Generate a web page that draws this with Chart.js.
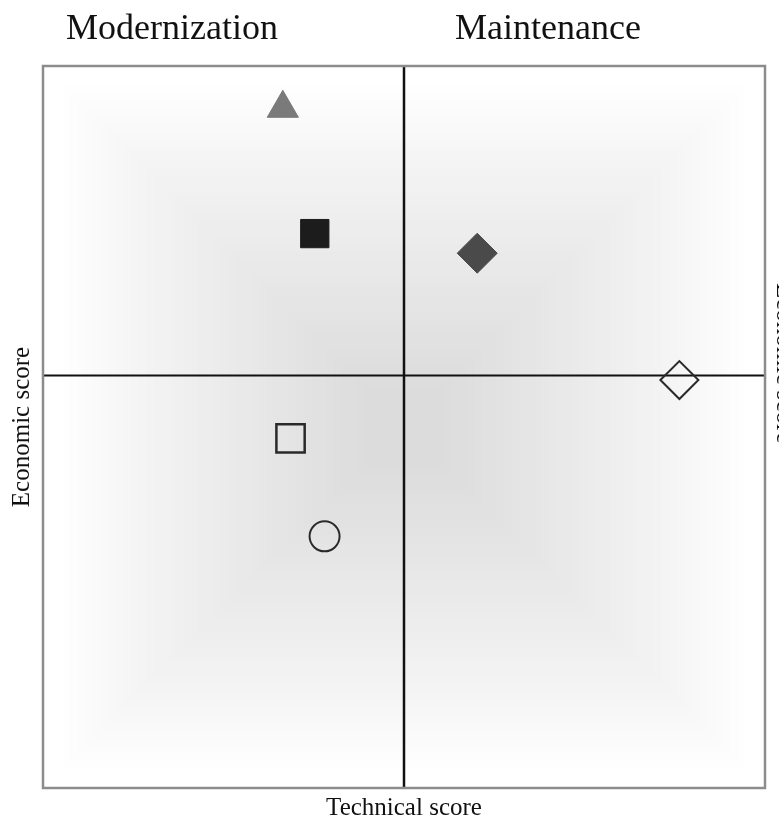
<!DOCTYPE html>
<html>
<head>
<meta charset="utf-8">
<script src="https://cdn.jsdelivr.net/npm/chart.js@4.4.1/dist/chart.umd.min.js"></script>
<style>
  html, body { margin: 0; padding: 0; background: #fff; overflow: hidden; }
  canvas { display: block; }
</style>
</head>
<body>
<canvas id="matrix" width="779" height="822"></canvas>
<script>
// Portfolio points (technical score, economic score)
const names = ["A", "B", "C", "D", "E", "F"];
const technical = [-2.35, -1.73, 1.42, 5.34, -2.20, -1.54];
const economic = [5.18, 2.75, 2.37, -0.09, -1.22, -3.12];
const quadrantTitles = ["Modernization", "Maintenance"];
const xTitle = "Technical score";
const yTitle = "Economic score";

// marker look per point
const markers = [
  { style: "triangle", r: 18, fill: "#7a7a7a", stroke: "#7a7a7a", w: 1 },
  { style: "rect", r: 20, fill: "#1c1c1c", stroke: "#1c1c1c", w: 1 },
  { style: "rectRot", r: 20, fill: "#4a4a4a", stroke: "#4a4a4a", w: 1 },
  { style: "rectRot", r: 19, fill: "rgba(0,0,0,0)", stroke: "#2a2a2a", w: 2 },
  { style: "rect", r: 20, fill: "rgba(0,0,0,0)", stroke: "#2a2a2a", w: 2.5 },
  { style: "circle", r: 15, fill: "rgba(0,0,0,0)", stroke: "#2a2a2a", w: 2 }
];

const datasets = names.map((n, i) => ({
  label: n,
  data: [{ x: technical[i], y: economic[i] }],
  pointStyle: markers[i].style,
  pointRadius: markers[i].r,
  pointBackgroundColor: markers[i].fill,
  pointBorderColor: markers[i].stroke,
  pointBorderWidth: markers[i].w,
  showLine: false
}));

function label(ctx, text, x, y, size, angle, align, base) {
  ctx.save();
  ctx.translate(x, y);
  ctx.rotate(angle);
  ctx.font = size + 'px "Liberation Serif", "DejaVu Serif", serif';
  ctx.fillStyle = "#111";
  ctx.textAlign = align;
  ctx.textBaseline = base;
  ctx.fillText(text, 0, 0);
  ctx.restore();
}

const decor = {
  id: "decor",
  beforeDatasetsDraw(chart) {
    const ctx = chart.ctx;
    const a = chart.chartArea;
    const xs = chart.scales.x, ys = chart.scales.y;
    ctx.save();
    ctx.fillStyle = "#fff";
    ctx.fillRect(0, 0, chart.width, chart.height);
    // soft rectangular shading, darker toward the middle
    const cx = (a.left + a.right) / 2, cy = (a.top + a.bottom) / 2;
    const hw = (a.right - a.left) / 2, hh = (a.bottom - a.top) / 2;
    const steps = 40;
    for (let i = 0; i <= steps; i++) {
      const t = i / steps;
      const inset = 20 + t * (hw - 60);
      const g = Math.round(254 - 34 * Math.pow(t, 0.9));
      ctx.fillStyle = "rgb(" + g + "," + g + "," + g + ")";
      ctx.fillRect(cx - hw + inset, cy - hh + inset, 2 * (hw - inset), 2 * (hh - inset));
    }
    // quadrant axes
    const x0 = xs.getPixelForValue(0), y0 = ys.getPixelForValue(0);
    ctx.strokeStyle = "#111";
    ctx.lineWidth = 2.5;
    ctx.beginPath();
    ctx.moveTo(x0, a.top); ctx.lineTo(x0, a.bottom);
    ctx.stroke();
    ctx.lineWidth = 2;
    ctx.beginPath();
    ctx.moveTo(a.left, y0); ctx.lineTo(a.right, y0);
    ctx.stroke();
    ctx.restore();
  },
  afterDraw(chart) {
    const ctx = chart.ctx;
    const a = chart.chartArea;
    ctx.save();
    ctx.strokeStyle = "#8c8c8c";
    ctx.lineWidth = 2.5;
    ctx.strokeRect(a.left, a.top, a.right - a.left, a.bottom - a.top);
    ctx.restore();
    label(ctx, quadrantTitles[0], 66, 39, 36, 0, "left", "alphabetic");
    label(ctx, quadrantTitles[1], 455, 39, 36, 0, "left", "alphabetic");
    label(ctx, xTitle, chart.scales.x.getPixelForValue(0), 815, 25, 0, "center", "alphabetic");
    label(ctx, yTitle, 29, (a.top + a.bottom) / 2, 25, -Math.PI / 2, "center", "alphabetic");
    label(ctx, yTitle, 777, 283, 25, Math.PI / 2, "left", "alphabetic");
  }
};

new Chart(document.getElementById("matrix"), {
  type: "scatter",
  data: { datasets: datasets },
  options: {
    responsive: false,
    animation: false,
    layout: { autoPadding: false, padding: { left: 43, top: 66, right: 14, bottom: 34 } },
    plugins: { legend: { display: false }, tooltip: { enabled: false } },
    scales: {
      x: { type: "linear", min: -7, max: 7, display: false },
      y: { type: "linear", min: -8, max: 6, display: false }
    }
  },
  plugins: [decor]
});
</script>
</body>
</html>
